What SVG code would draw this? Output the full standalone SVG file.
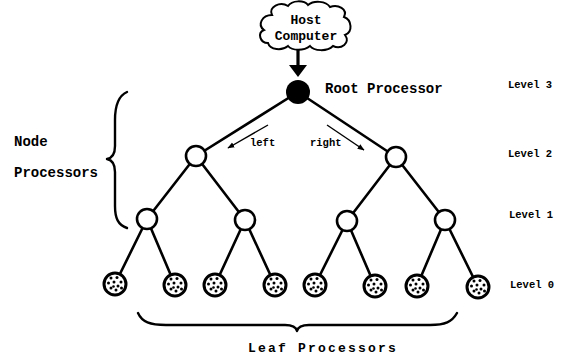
<svg xmlns="http://www.w3.org/2000/svg" width="565" height="359" viewBox="0 0 565 359">
  <style>
    .lbl { font-family: "Liberation Mono", "DejaVu Sans Mono", monospace; font-weight: bold; fill: #000; }
    .big { font-size: 14px; }
    .small { font-size: 10.5px; }
    .edge { stroke: #000; stroke-width: 2.6; fill: none; stroke-linecap: round; }
    .node { fill: #fff; stroke: #000; stroke-width: 2.6; }
    .brace { fill: none; stroke: #000; stroke-width: 2.4; stroke-linecap: round; stroke-linejoin: round; }
    .thin { stroke: #000; stroke-width: 1.4; fill: none; }
  </style>
  <defs>
    <!-- stippled leaf processor -->
    <symbol id="leaf" overflow="visible">
      <circle r="11" fill="#fff" stroke="#000" stroke-width="3"/>
      <g fill="#000">
        <circle cx="-4" cy="-6" r="1.5"/>
        <circle cx="2" cy="-6.5" r="1.5"/>
        <circle cx="6" cy="-2" r="1.5"/>
        <circle cx="-6.5" cy="-1" r="1.5"/>
        <circle cx="-1" cy="-2" r="1.5"/>
        <circle cx="3" cy="2" r="1.5"/>
        <circle cx="-4" cy="4" r="1.5"/>
        <circle cx="1" cy="6" r="1.5"/>
        <circle cx="6.5" cy="4" r="1.5"/>
        <circle cx="-1.5" cy="2.5" r="1.3"/>
      </g>
    </symbol>
    <marker id="ah" viewBox="0 0 10 10" refX="9" refY="5" markerWidth="7" markerHeight="7" orient="auto" markerUnits="userSpaceOnUse">
      <path d="M0,1 L10,5 L0,9 Z" fill="#000"/>
    </marker>
  </defs>

  <!-- connectors -->
  <g id="connectors">
    <line class="edge" x1="298" y1="92" x2="196" y2="156"/>
    <line class="edge" x1="298" y1="92" x2="396" y2="157"/>
    <line class="edge" x1="196" y1="156" x2="147" y2="219"/>
    <line class="edge" x1="196" y1="156" x2="245" y2="220"/>
    <line class="edge" x1="396" y1="157" x2="347" y2="221"/>
    <line class="edge" x1="396" y1="157" x2="445" y2="220"/>
    <line class="edge" x1="147" y1="219" x2="115" y2="284"/>
    <line class="edge" x1="147" y1="219" x2="175" y2="285"/>
    <line class="edge" x1="245" y1="220" x2="215" y2="285"/>
    <line class="edge" x1="245" y1="220" x2="275" y2="285"/>
    <line class="edge" x1="347" y1="221" x2="315" y2="285"/>
    <line class="edge" x1="347" y1="221" x2="375" y2="286"/>
    <line class="edge" x1="445" y1="220" x2="417" y2="286"/>
    <line class="edge" x1="445" y1="220" x2="478" y2="287"/>
    <!-- host to root -->
    <line x1="298" y1="50" x2="298" y2="68" stroke="#000" stroke-width="3.2"/>
    <path d="M289,65 L307,65 L298,77 Z" fill="#000"/>
    <!-- direction hints -->
    <line class="thin" x1="268" y1="125" x2="228" y2="148" marker-end="url(#ah)"/>
    <line class="thin" x1="327" y1="125" x2="364" y2="150" marker-end="url(#ah)"/>
  </g>

  <!-- host computer cloud -->
  <g id="host">
    <path d="M272,15 C268,7 280,1 288,6 C292,0 304,0 308,5 C314,0 326,1 330,7 C338,4 348,9 344,17 C352,20 353,32 345,35 C351,43 341,50 333,46 C327,52 314,51 310,46 C304,51 292,51 288,46 C282,51 270,50 268,43 C260,43 257,33 264,30 C257,25 262,15 272,15 Z" fill="#fff" stroke="#000" stroke-width="2"/>
    <text class="lbl" font-size="13" x="306" y="24" text-anchor="middle">Host</text>
    <text class="lbl" font-size="13" x="306" y="40" text-anchor="middle">Computer</text>
  </g>

  <!-- processors -->
  <g id="root">
    <circle cx="298" cy="92" r="12" fill="#000"/>
    <text class="lbl big" x="325" y="93">Root Processor</text>
  </g>
  <g id="n2-left"><circle class="node" cx="196" cy="156" r="10"/></g>
  <g id="n2-right"><circle class="node" cx="396" cy="157" r="10"/></g>
  <g id="n1-a"><circle class="node" cx="147" cy="219" r="10"/></g>
  <g id="n1-b"><circle class="node" cx="245" cy="220" r="10"/></g>
  <g id="n1-c"><circle class="node" cx="347" cy="221" r="10"/></g>
  <g id="n1-d"><circle class="node" cx="445" cy="220" r="10"/></g>

  <g id="leaf-1"><use href="#leaf" x="115" y="284"/></g>
  <g id="leaf-2"><use href="#leaf" x="175" y="285"/></g>
  <g id="leaf-3"><use href="#leaf" x="215" y="285"/></g>
  <g id="leaf-4"><use href="#leaf" x="275" y="285"/></g>
  <g id="leaf-5"><use href="#leaf" x="315" y="285"/></g>
  <g id="leaf-6"><use href="#leaf" x="375" y="286"/></g>
  <g id="leaf-7"><use href="#leaf" x="417" y="286"/></g>
  <g id="leaf-8"><use href="#leaf" x="478" y="287"/></g>

  <!-- direction labels -->
  <text class="lbl small" x="250" y="146">left</text>
  <text class="lbl small" x="310" y="146">right</text>

  <!-- level labels -->
  <g id="levels">
    <text class="lbl small" x="508" y="88">Level 3</text>
    <text class="lbl small" x="508" y="157">Level 2</text>
    <text class="lbl small" x="509" y="218">Level 1</text>
    <text class="lbl small" x="510" y="288">Level 0</text>
  </g>

  <!-- node processors group -->
  <g id="node-processors">
    <path class="brace" d="M127,92 C118,96 115,106 115,120 L115,146 C115,154 112,158 107,159 C112,160 115,164 115,172 L115,206 C115,218 118,225 127,228"/>
    <text class="lbl big" x="14" y="146">Node</text>
    <text class="lbl big" x="14" y="177">Processors</text>
  </g>

  <!-- leaf processors group -->
  <g id="leaf-processors">
    <path class="brace" d="M138,313 C142,322 150,325 166,325 L285,325 C292,325 296,327 297,331 C298,327 302,325 309,325 L430,325 C445,325 452,322 457,313"/>
    <text class="lbl" x="248" y="352" font-size="13" letter-spacing="2.2">Leaf Processors</text>
  </g>
</svg>
